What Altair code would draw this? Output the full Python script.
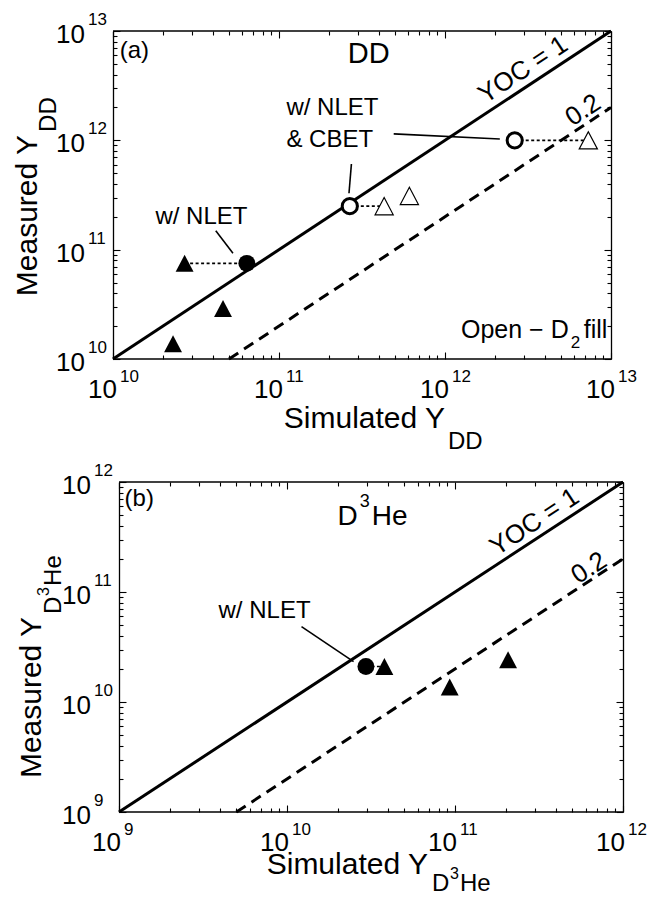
import math
import altair as alt
import pandas as pd

FONT = "Liberation Sans"
INK = "black"

# ---------------- panel (a): DD yields ----------------
A_XDOM = [1e10, 1e13]
A_YDOM = [1e10, 1e13]
A_DECADES = [1e10, 1e11, 1e12, 1e13]
A_EXPONENTS = ["10", "11", "12", "13"]
A_TRI_X = [2.7e10, 4.6e10, 2.3e10]          # filled triangles
A_TRI_Y = [7.5e10, 2.9e10, 1.38e10]
A_NLET_X = [6.4e10]                          # filled circle (w/ NLET)
A_NLET_Y = [7.5e10]
A_OTRI_X = [4.3e11, 6.1e11, 7.3e12]          # open triangles (D2 fill)
A_OTRI_Y = [2.5e11, 3.1e11, 1.0e12]
A_OCIRC_X = [2.67e11, 2.63e12]               # open circles (w/ NLET & CBET)
A_OCIRC_Y = [2.5e11, 1.0e12]
A_LINK_X1 = [2.7e10, 2.67e11, 2.63e12]       # dotted links
A_LINK_X2 = [6.4e10, 4.3e11, 7.3e12]
A_LINK_Y = [7.5e10, 2.5e11, 1.0e12]
A_LEAD_X1 = [4.16e10, 2.73e11, 4.91e11]      # leader lines
A_LEAD_Y1 = [1.49e11, 6.08e11, 1.145e12]
A_LEAD_X2 = [5.28e10, 2.64e11, 2.14e12]
A_LEAD_Y2 = [9.27e10, 3.28e11, 1.03e12]
A_YOC_LABEL_X = [3.34e12, 7.5e12]

# ---------------- panel (b): D3He yields ----------------
B_XDOM = [1e9, 1e12]
B_YDOM = [1e9, 1e12]
B_DECADES = [1e9, 1e10, 1e11, 1e12]
B_EXPONENTS = ["9", "10", "11", "12"]
B_TRI_X = [3.8e10, 9.3e10, 2.07e11]
B_TRI_Y = [2.1e10, 1.37e10, 2.42e10]
B_NLET_X = [2.95e10]
B_NLET_Y = [2.1e10]
B_LINK_X1 = [2.95e10]
B_LINK_X2 = [3.8e10]
B_LINK_Y = [2.1e10]
B_LEAD_X1 = [1.22e10]
B_LEAD_Y1 = [4.85e10]
B_LEAD_X2 = [2.49e10]
B_LEAD_Y2 = [2.33e10]
B_YOC_LABEL_X = [3.33e11, 6.82e11]

YOC_RATIOS = [1.0, 0.2]
YOC_TEXT = ["YOC = 1", "0.2"]

TRI = "M0,-0.95L-1,0.95L1,0.95Z"

PANELS = [
    dict(
        w=498, h=328, x0=0,
        xdom=A_XDOM, ydom=A_YDOM, decades=A_DECADES, exps=A_EXPONENTS,
        xlab_dx=(4, 7),
        tri=(A_TRI_X, A_TRI_Y), dot=(A_NLET_X, A_NLET_Y),
        otri=(A_OTRI_X, A_OTRI_Y), ocirc=(A_OCIRC_X, A_OCIRC_Y),
        link=(A_LINK_X1, A_LINK_X2, A_LINK_Y),
        lead=(A_LEAD_X1, A_LEAD_Y1, A_LEAD_X2, A_LEAD_Y2),
        yoc_x=A_YOC_LABEL_X, yoc_dy=[-8, -5],
        notes=[
            ("(a)", 1.097e10, 5.68e12, 24, "left", 0, 0),
            ("DD", 3.47e11, 5.1e12, 29, "center", 0, 0),
            ("w/ NLET", 3.41e10, 1.72e11, 24, "center", 0, 0),
            ("w/ NLET", 1.108e11, 1.71e12, 24, "left", 0, 0),
            ("& CBET", 1.108e11, 8.76e11, 24, "left", 0, 0),
            ("Open \u2212 D", 5.56e12, 1.556e10, 25, "right", 0, 0),
            ("2", 5.56e12, 1.556e10, 17, "left", 2, 10),
            ("fill", 5.56e12, 1.556e10, 25, "left", 15, 0),
        ],
        xtitle_x=1e12,
        xtitle=[("Simulated Y", 30, "right", 0, 69), ("DD", 24, "left", 3, 90)],
        ytitle_y=1.12e12,
        ytitle=[("Measured Y", 30, "right", 0, -76), ("DD", 24, "left", 3, -57)],
    ),
    dict(
        w=510, h=330, x0=6,
        xdom=B_XDOM, ydom=B_YDOM, decades=B_DECADES, exps=B_EXPONENTS,
        xlab_dx=(2, 5),
        tri=(B_TRI_X, B_TRI_Y), dot=(B_NLET_X, B_NLET_Y),
        otri=([], []), ocirc=([], []),
        link=(B_LINK_X1, B_LINK_X2, B_LINK_Y),
        lead=(B_LEAD_X1, B_LEAD_Y1, B_LEAD_X2, B_LEAD_Y2),
        yoc_x=B_YOC_LABEL_X, yoc_dy=[-7, -3],
        notes=[
            ("(b)", 1.08e9, 6.1e11, 24, "left", 0, 0),
            ("D", 2.64e10, 4.07e11, 28, "right", 0, 0),
            ("3", 2.64e10, 4.07e11, 18, "left", 2, -18),
            ("He", 2.64e10, 4.07e11, 28, "left", 14, 0),
            ("w/ NLET", 7.35e9, 5.82e10, 24, "center", 0, 0),
        ],
        xtitle_x=6.9e10,
        xtitle=[("Simulated Y", 30, "right", 0, 62), ("D", 24, "left", 4, 79),
                ("3", 16, "left", 22, 67), ("He", 24, "left", 32, 79)],
        ytitle_y=5.94e10,
        ytitle=[("Measured Y", 30, "right", 0, -78), ("D", 24, "left", 3, -58),
                ("3", 16, "left", 21, -70), ("He", 24, "left", 31, -58)],
    ),
]


def build_panel(S):
    w, h, x0 = S["w"], S["h"], S["x0"]
    lo, hi = S["xdom"]
    ndec = math.log10(hi / lo)
    ppd = (w - x0) / ndec                      # pixels per decade
    lo_ext = lo / 10 ** (x0 / ppd)             # extend domain so that lo sits x0 px in
    xs = alt.Scale(type="log", domain=[lo_ext, hi], nice=False)
    ys = alt.Scale(type="log", domain=S["ydom"], nice=False)

    def X(f):
        return alt.X(f + ":Q", scale=xs, axis=None)

    def Y(f):
        return alt.Y(f + ":Q", scale=ys, axis=None)

    layers = []

    # frame with inward ticks on all four sides
    edge = pd.DataFrame({"x": S["xdom"], "y": S["ydom"]})
    major = S["decades"]
    minor = [m * d for d in major[:-1] for m in range(2, 10)]

    def ax(orient, offset, values, size, domain):
        return alt.Axis(orient=orient, offset=offset, values=values, tickSize=size,
                        labels=False, title=None, domain=domain, domainColor=INK,
                        domainWidth=1.3, tickColor=INK, tickWidth=1.1, grid=False)

    for orient in ("bottom", "top"):
        for vals, size in ((major, 7), (minor, 4)):
            layers.append(alt.Chart(edge).mark_point(opacity=0).encode(
                x=alt.X("x:Q", scale=xs, axis=ax(orient, -h, vals, size, False)),
                y=Y("y")))
    for orient, off in (("right", -(w - x0)), ("left", -w)):
        for vals, size, dom in ((major, 7, True), (minor, 4, False)):
            layers.append(alt.Chart(edge).mark_point(opacity=0).encode(
                x=X("x"),
                y=alt.Y("y:Q", scale=ys, axis=ax(orient, off, vals, size, dom))))
    # top and bottom frame edges
    fr = pd.DataFrame({"x": [lo, lo], "x2": [hi, hi], "y": S["ydom"]})
    layers.append(alt.Chart(fr).mark_rule(color=INK, strokeWidth=1.3).encode(
        x=X("x"), x2="x2:Q", y=Y("y")))

    # YOC lines
    rows = []
    for r in YOC_RATIOS:
        xa = max(S["xdom"][0], S["ydom"][0] / r)
        xb = min(S["xdom"][1], S["ydom"][1] / r)
        rows.append({"x": xa, "x2": xb, "y": r * xa, "y2": r * xb, "r": r})
    ldf = pd.DataFrame(rows)
    layers.append(alt.Chart(ldf[ldf.r == 1.0]).mark_rule(color=INK, strokeWidth=3).encode(
        x=X("x"), x2="x2:Q", y=Y("y"), y2="y2:Q"))
    layers.append(alt.Chart(ldf[ldf.r != 1.0]).mark_rule(color=INK, strokeWidth=3, strokeDash=[11, 7]).encode(
        x=X("x"), x2="x2:Q", y=Y("y"), y2="y2:Q"))

    # dotted links
    x1, x2, yy = S["link"]
    layers.append(alt.Chart(pd.DataFrame({"x": x1, "x2": x2, "y": yy})).mark_rule(
        color=INK, strokeWidth=1.6, strokeDash=[3, 2.5]).encode(x=X("x"), x2="x2:Q", y=Y("y")))

    # leader lines
    a, b, c, d = S["lead"]
    layers.append(alt.Chart(pd.DataFrame({"x": a, "y": b, "x2": c, "y2": d})).mark_rule(
        color=INK, strokeWidth=1.6).encode(x=X("x"), y=Y("y"), x2="x2:Q", y2="y2:Q"))

    # markers
    tx, ty = S["tri"]
    layers.append(alt.Chart(pd.DataFrame({"x": tx, "y": ty})).mark_point(
        shape=TRI, size=320, filled=True, color=INK, opacity=1).encode(x=X("x"), y=Y("y")))
    dx_, dy_ = S["dot"]
    layers.append(alt.Chart(pd.DataFrame({"x": dx_, "y": dy_})).mark_point(
        shape="circle", size=285, filled=True, color=INK, opacity=1).encode(x=X("x"), y=Y("y")))
    ox, oy = S["otri"]
    if ox:
        layers.append(alt.Chart(pd.DataFrame({"x": ox, "y": oy})).mark_point(
            shape=TRI, size=330, filled=True, fill="white", stroke=INK, strokeWidth=1.2,
            opacity=1).encode(x=X("x"), y=Y("y")))
    cx, cy = S["ocirc"]
    if cx:
        layers.append(alt.Chart(pd.DataFrame({"x": cx, "y": cy})).mark_point(
            shape="circle", size=230, filled=True, fill="white", stroke=INK, strokeWidth=3,
            opacity=1).encode(x=X("x"), y=Y("y")))

    def text_layer(df, size, align="center", dx=0, dy=0, angle=0):
        return alt.Chart(df).mark_text(
            font=FONT, fontSize=size, align=align, baseline="alphabetic",
            dx=dx, dy=dy, angle=angle, color=INK).encode(x=X("x"), y=Y("y"), text="t:N")

    # tick labels 10^n
    xmin, ymin = S["xdom"][0], S["ydom"][0]
    dec = S["decades"]
    bdx, edx = S["xlab_dx"]
    layers.append(text_layer(pd.DataFrame({"x": dec, "y": [ymin] * 4, "t": ["10"] * 4}), 26, "right", bdx, 39))
    layers.append(text_layer(pd.DataFrame({"x": dec, "y": [ymin] * 4, "t": S["exps"]}), 17, "left", edx, 23))
    layers.append(text_layer(pd.DataFrame({"x": [xmin] * 4, "y": dec, "t": ["10"] * 4}), 26, "right", -28, 12))
    layers.append(text_layer(pd.DataFrame({"x": [xmin] * 4, "y": dec, "t": S["exps"]}), 17, "left", -25, -6))

    # axis titles
    for t, size, al, ddx, ddy in S["xtitle"]:
        layers.append(text_layer(pd.DataFrame({"x": [S["xtitle_x"]], "y": [ymin], "t": [t]}), size, al, ddx, ddy))
    for t, size, al, ddx, ddy in S["ytitle"]:
        layers.append(text_layer(pd.DataFrame({"x": [xmin], "y": [S["ytitle_y"]], "t": [t]}), size, al, ddx, ddy, 270))

    # YOC labels along the lines
    ang = 360 - math.degrees(math.atan(h / (w - x0)))
    for r, t, lx, ddy in zip(YOC_RATIOS, YOC_TEXT, S["yoc_x"], S["yoc_dy"]):
        layers.append(text_layer(pd.DataFrame({"x": [lx], "y": [r * lx], "t": [t]}), 26, "center", 0, ddy, ang))

    # annotations
    for t, x, y, size, al, ddx, ddy in S["notes"]:
        layers.append(text_layer(pd.DataFrame({"x": [x], "y": [y], "t": [t]}), size, al, ddx, ddy))

    return alt.layer(*layers).resolve_axis(x="independent", y="independent").properties(width=w, height=h)


pa = build_panel(PANELS[0])
pb = build_panel(PANELS[1])

chart = alt.vconcat(pa, pb, spacing=123, bounds="flush").properties(
    padding={"left": 13, "top": 11, "right": 0, "bottom": 0}
).configure_view(strokeWidth=0)

chart.save("out.html", embed_options={"renderer": "svg", "actions": False})
